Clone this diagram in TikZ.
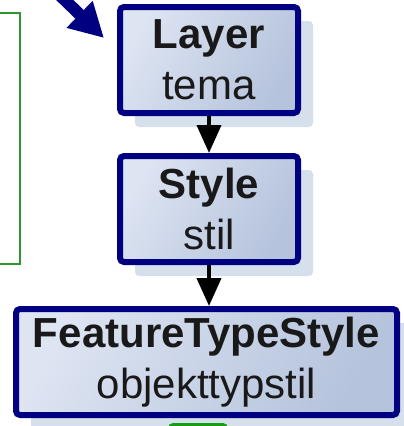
\documentclass[tikz,border=0pt]{standalone}
\usepackage{fontspec}
\setmainfont{Liberation Sans}
\usepackage{tikz}
\usetikzlibrary{arrows.meta, positioning, shadows}
\definecolor{boxnavy}{HTML}{000080}
\definecolor{boxlight}{HTML}{DDE4F2}
\definecolor{boxdark}{HTML}{B5C3DC}
\definecolor{shadowblue}{HTML}{D6DFEC}
\definecolor{panelgreen}{HTML}{2E962E}
\definecolor{legendgreen}{HTML}{12A012}

\begin{document}
\begin{tikzpicture}[x=1pt, y=-1pt, every node/.style={font=\fontsize{42}{51}\selectfont},
  klass/.style={draw=boxnavy, line width=6pt, rounded corners=4pt, left color=boxlight, right color=boxdark, shading angle=60, align=center, text=black!90, minimum height=106pt, drop shadow={shadow xshift=15pt, shadow yshift=-14pt, fill=shadowblue, opacity=1}},
  link/.style={-{Triangle[length=28pt, width=24pt]}, line width=4pt}]
  \useasboundingbox (0,0) rectangle (404,426);
  \clip (0,0) rectangle (404,426);
  % green panel at the left edge
  \node[draw=panelgreen, line width=2pt, minimum width=40pt, minimum height=251pt, anchor=north east] (notes) at (21,12) {};
  \node[klass, minimum width=178pt] (layer) at (209,60) {{\bfseries Layer}\\tema};
  \node[klass, minimum width=178pt, below=37pt of layer] (style) {{\bfseries Style}\\stil};
  \node[klass, minimum width=381pt, below=41pt of style, xshift=-2.5pt] (fts) {{\bfseries FeatureTypeStyle}\\objekttypstil};
  \draw[link] (layer) -- (style);
  \draw[link] (style.south) -- (style.south |- fts.north);
  % pointer into the layer box
  \coordinate (cue) at (40,-24);
  \coordinate (cuetip) at (104,38);
  \draw[-{Triangle[length=34pt, width=35pt]}, boxnavy, line width=12pt] (cue) -- (cuetip);
  % green block below, cut off
  \fill[legendgreen, rounded corners=5pt] (168,423) rectangle (228,445);
\end{tikzpicture}
\end{document}
